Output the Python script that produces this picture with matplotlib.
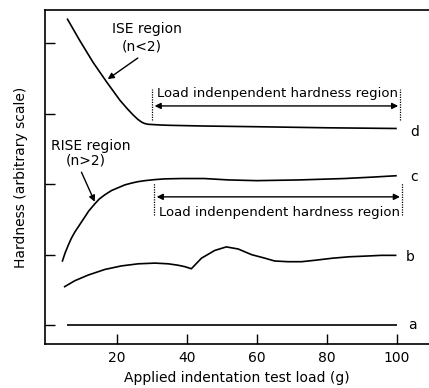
import matplotlib
matplotlib.use("Agg")
import matplotlib.pyplot as plt

# Curve data (load in g, hardness in arbitrary units)
a_x = [5.9, 100]
a_y = [1.0, 1.0]

b_x = [4.9, 8.0, 11.8, 16.6, 21.3, 26.1, 30.9, 34.7, 37.5, 39.4, 41.3,
       44.2, 48.0, 51.3, 54.7, 58.5, 62.3, 65.1, 68.9, 72.8, 76.6, 81.7, 86.5, 91.3, 95.5, 99.9]
b_y = [1.54, 1.63, 1.71, 1.79, 1.84, 1.87, 1.88, 1.87, 1.85, 1.83, 1.80,
       1.95, 2.06, 2.11, 2.08, 2.00, 1.95, 1.91, 1.90, 1.90, 1.92, 1.95, 1.97, 1.98, 1.99, 1.99]

c_x = [4.4, 5.2, 6.1, 7.0, 8.0, 9.2, 10.4, 12.0, 13.7, 15.0, 16.6, 18.5, 20.4, 22.3, 24.2,
       26.0, 28.0, 30.9, 33.7, 38.5, 45.0, 52.0, 60.0, 72.0, 85.0, 93.0, 100.0]
c_y = [1.90, 2.02, 2.13, 2.23, 2.32, 2.41, 2.50, 2.62, 2.72, 2.79, 2.85, 2.91, 2.95, 2.99, 3.015,
       3.035, 3.05, 3.065, 3.075, 3.08, 3.08, 3.06, 3.05, 3.06, 3.08, 3.10, 3.12]

d_x = [5.8, 9.4, 13.2, 17.1, 20.9, 23.0, 24.7, 26.0, 27.1, 28.0, 28.9, 30.5, 32.3, 35.1,
       45.0, 60.0, 80.0, 100.0]
d_y = [5.35, 5.04, 4.73, 4.45, 4.19, 4.07, 3.98, 3.92, 3.88, 3.86, 3.85, 3.845, 3.84, 3.835,
       3.825, 3.815, 3.80, 3.79]

x_ticks = [20, 40, 60, 80, 100]
y_ticks = [1, 2, 3, 4, 5]
curve_labels = ["a", "b", "c", "d"]
region_text = "Load indenpendent hardness region"

fig = plt.figure(figsize=(4.29, 3.88), dpi=100)
ax = fig.add_axes([0.105, 0.113, 0.895, 0.861])
ax.set_xlim(-0.5, 109.2)
ax.set_ylim(0.73, 5.47)

lw = 1.2
for xs, ys in [(a_x, a_y), (b_x, b_y), (c_x, c_y), (d_x, d_y)]:
    ax.plot(xs, ys, color="black", lw=lw, solid_capstyle="butt",
            solid_joinstyle="round")

# end labels
label_pos = [(104.6, 1.0), (103.9, 1.96), (104.9, 3.10), (105.1, 3.74)]
for lab, (lx, ly) in zip(curve_labels, label_pos):
    ax.text(lx, ly, lab, fontsize=10, ha="center", va="center")

# region markers
for (yb, yt, ya, yt_text, xl, xr) in [(3.91, 4.35, 4.11, 4.29, 30.0, 101.0),
                                      (2.56, 3.01, 2.82, 2.60, 30.6, 101.5)]:
    ax.plot([xl, xl], [yb, yt], color="black", lw=0.9, ls=(0, (1, 1)))
    ax.plot([xr, xr], [yb, yt], color="black", lw=0.9, ls=(0, (1, 1)))
    ax.annotate("", xy=(xr - 0.6, ya), xytext=(xl + 0.8, ya),
                arrowprops=dict(arrowstyle="<|-|>", color="black", lw=1.0,
                                mutation_scale=9, shrinkA=0, shrinkB=0))
    ax.text(xl + 1.4, yt_text, region_text, fontsize=9.5, ha="left", va="center")

# ISE / RISE annotations
ax.text(28.6, 5.2, "ISE region", fontsize=10, ha="center", va="center")
ax.text(27.1, 4.95, "(n<2)", fontsize=10, ha="center", va="center")
ax.annotate("", xy=(17.4, 4.49), xytext=(26.0, 4.79),
            arrowprops=dict(arrowstyle="-|>", color="black", lw=1.0,
                            mutation_scale=9, shrinkA=0, shrinkB=0))
ax.text(12.7, 3.54, "RISE region", fontsize=10, ha="center", va="center")
ax.text(11.1, 3.34, "(n>2)", fontsize=10, ha="center", va="center")
ax.annotate("", xy=(13.7, 2.75), xytext=(9.9, 3.17),
            arrowprops=dict(arrowstyle="-|>", color="black", lw=1.0,
                            mutation_scale=9, shrinkA=0, shrinkB=0))

ax.set_xticks(x_ticks)
ax.set_xticklabels([str(t) for t in x_ticks], fontsize=10)
ax.set_yticks(y_ticks)
ax.set_yticklabels([])
ax.tick_params(direction="in", length=7, width=1.0, pad=5)
for s in ["left", "bottom", "top"]:
    ax.spines[s].set_linewidth(1.2)
ax.spines["right"].set_visible(False)

ax.set_xlabel("Applied indentation test load (g)", fontsize=10, labelpad=4)
ax.set_ylabel("Hardness (arbitrary scale)", fontsize=10, labelpad=7)

fig.savefig("out.png", dpi=100)
